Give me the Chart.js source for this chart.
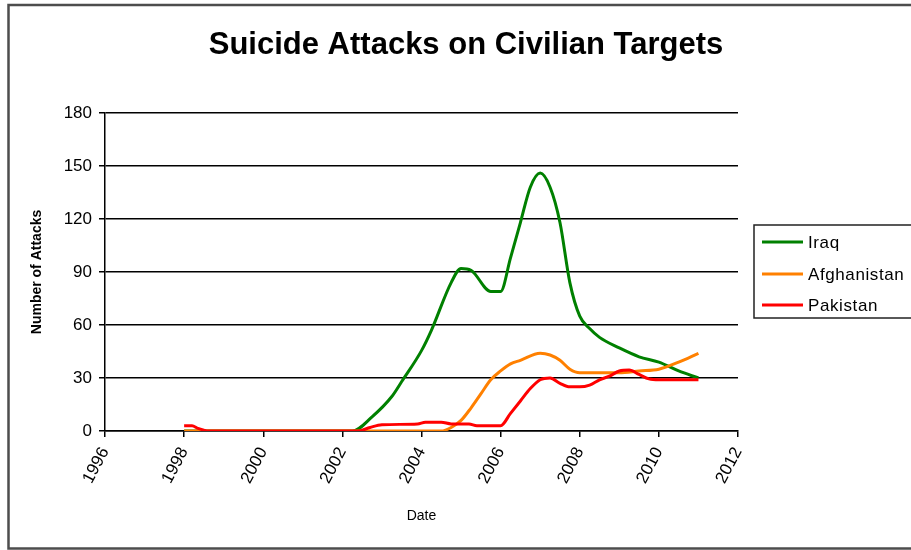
<!DOCTYPE html>
<html>
<head>
<meta charset="utf-8">
<title>Suicide Attacks on Civilian Targets</title>
<script src="https://cdn.jsdelivr.net/npm/chart.js@4.4.1/dist/chart.umd.min.js"></script>
<style>
  html, body { margin: 0; padding: 0; background: #fff; }
  #wrap { width: 911px; height: 550px; position: relative; }
</style>
</head>
<body>
<div id="wrap"><canvas id="chart" width="911" height="550"></canvas></div>
<script>
// Axis ticks
const yearTicks = [1996, 1998, 2000, 2002, 2004, 2006, 2008, 2010, 2012];
const attackTicks = [0, 30, 60, 90, 120, 150, 180];

// Series: dates (decimal years) and number of attacks
const iraqYears = [1998, 2002.25, 2002.75, 2003.25, 2003.5, 2004, 2004.25, 2004.75, 2005, 2005.25, 2005.75, 2006, 2006.25, 2006.5, 2006.75, 2007, 2007.25, 2007.5, 2007.75, 2008, 2008.25, 2008.5, 2009, 2009.5, 2010, 2010.5, 2011];
const iraqAttacks = [0, 0, 8, 19.5, 28, 45.5, 57, 84, 92, 91, 79, 79, 98, 118, 138, 146, 138, 118, 84, 65, 58, 53, 47, 42, 39, 34, 30];

const afghanYears = [1998, 2004.5, 2004.75, 2005, 2005.25, 2005.5, 2005.75, 2006, 2006.25, 2006.5, 2007, 2007.25, 2007.5, 2007.75, 2008, 2008.5, 2009, 2009.5, 2010, 2010.5, 2011];
const afghanAttacks = [0, 0, 2, 6, 13, 21, 29, 34, 38, 40, 44, 43, 40, 35, 33, 33, 33, 34, 35, 39, 44];

const pakistanYears = [1998, 1998.2, 1998.35, 1998.5, 1998.6, 2002.4, 2002.7, 2003, 2003.9, 2004.1, 2004.5, 2004.75, 2005.2, 2005.4, 2006, 2006.25, 2006.5, 2006.75, 2007, 2007.25, 2007.5, 2007.75, 2008, 2008.25, 2008.5, 2008.75, 2009, 2009.25, 2009.5, 2009.75, 2010, 2011];
const pakistanAttacks = [3, 3, 1.5, 0.5, 0, 0, 2, 3.5, 4, 5, 5, 4, 4, 3, 3, 10, 17, 24, 29, 30, 27, 25, 25, 26, 29, 31, 34, 34.5, 32, 29.5, 29, 29];

const toPoints = (xs, ys) => xs.map((x, i) => ({ x: x, y: ys[i] }));

Chart.defaults.font.family = "'Liberation Sans', Arial, sans-serif";
Chart.defaults.color = '#000';

// Outer frame around the whole figure
const framePlugin = {
  id: 'frame',
  beforeDraw(chart) {
    const ctx = chart.ctx;
    ctx.save();
    ctx.fillStyle = '#fff';
    ctx.fillRect(0, 0, chart.width, chart.height);
    ctx.strokeStyle = '#4d4d4d';
    ctx.lineWidth = 2.5;
    ctx.strokeRect(8.5, 5, 1000, 543.5);
    ctx.restore();
  }
};

// Boxed legend on the right of the plot
const boxLegendPlugin = {
  id: 'boxLegend',
  afterDraw(chart) {
    const ctx = chart.ctx;
    const left = 754, top = 225, height = 93;
    const rows = [242, 274, 305];
    ctx.save();
    ctx.strokeStyle = '#222';
    ctx.lineWidth = 1.5;
    ctx.strokeRect(left, top, 300, height);
    ctx.font = "17px 'Liberation Sans', Arial, sans-serif";
    if ('letterSpacing' in ctx) ctx.letterSpacing = '0.6px';
    ctx.textBaseline = 'middle';
    ctx.textAlign = 'left';
    chart.data.datasets.forEach((ds, i) => {
      const y = rows[i];
      ctx.strokeStyle = ds.borderColor;
      ctx.lineWidth = 3;
      ctx.beginPath();
      ctx.moveTo(762, y);
      ctx.lineTo(803, y);
      ctx.stroke();
      ctx.fillStyle = '#000';
      ctx.fillText(ds.label, 808, y + 1);
    });
    ctx.restore();
  }
};

new Chart(document.getElementById('chart'), {
  type: 'line',
  data: {
    datasets: [
      { label: 'Iraq', data: toPoints(iraqYears, iraqAttacks), borderColor: '#008000', order: 2 },
      { label: 'Afghanistan', data: toPoints(afghanYears, afghanAttacks), borderColor: '#ff8000', order: 1 },
      { label: 'Pakistan', data: toPoints(pakistanYears, pakistanAttacks), borderColor: '#ff0000', order: 0 }
    ]
  },
  options: {
    responsive: false,
    animation: false,
    events: [],
    layout: { padding: { left: 21, right: 0, top: 0, bottom: 0 } },
    elements: {
      line: { borderWidth: 3, cubicInterpolationMode: 'monotone', fill: false },
      point: { radius: 0 }
    },
    plugins: {
      legend: { display: false },
      tooltip: { enabled: false },
      title: {
        display: true,
        text: 'Suicide Attacks on Civilian Targets',
        color: '#000',
        font: { size: 31, weight: 'bold' },
        padding: { top: 26.4, bottom: 49.4 }
      }
    },
    scales: {
      x: {
        type: 'linear',
        position: 'bottom',
        min: 1996,
        max: 2012,
        afterBuildTicks(scale) { scale.ticks = yearTicks.map(v => ({ value: v })); },
        afterFit(scale) { scale.height = 119; },
        ticks: {
          autoSkip: false,
          minRotation: 62,
          maxRotation: 62,
          padding: 7,
          font: { size: 17 },
          color: '#000',
          callback: v => String(v)
        },
        grid: { display: true, drawOnChartArea: false, drawTicks: true, tickLength: 6, color: '#000', lineWidth: 1.5 },
        border: { display: true, color: '#000', width: 1.5 },
        title: { display: true, text: 'Date', font: { size: 14 }, color: '#000', padding: { top: 0, bottom: 25 } }
      },
      y: {
        type: 'linear',
        position: 'left',
        min: 0,
        max: 180,
        afterBuildTicks(scale) { scale.ticks = attackTicks.map(v => ({ value: v })); },
        afterFit(scale) { scale.width = 84; },
        ticks: { padding: 7, font: { size: 17 }, color: '#000' },
        grid: { color: '#000', lineWidth: 1.5, drawTicks: true, tickLength: 6 },
        border: { display: true, color: '#000', width: 1.5 },
        title: { display: true, text: 'Number of Attacks', font: { size: 14, weight: 'bold' }, color: '#000', padding: { top: 8, bottom: 0 } }
      },
      legendSpace: {
        type: 'linear',
        position: 'right',
        display: true,
        afterFit(scale) { scale.width = 173; },
        ticks: { display: false },
        grid: { display: false, drawTicks: false },
        border: { display: false }
      }
    }
  },
  plugins: [framePlugin, boxLegendPlugin]
});
</script>
</body>
</html>
